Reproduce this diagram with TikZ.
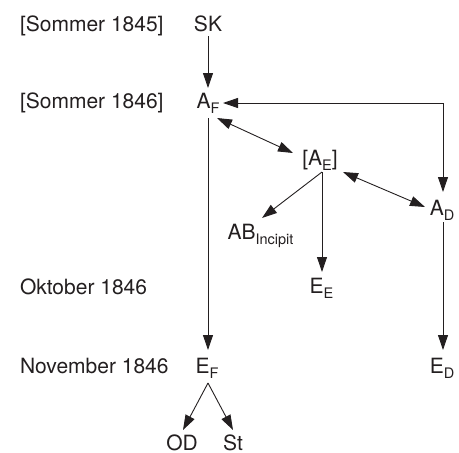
\documentclass[tikz,border=0pt]{standalone}
\usepackage{fontspec}
\setmainfont{TeX Gyre Heros}
\usetikzlibrary{arrows.meta,calc}

\definecolor{ink}{HTML}{231F20}

% lowered, smaller index letters
\newcommand{\lowsub}[1]{\raisebox{-5pt}{\fontsize{14.5}{14.5}\selectfont #1}}

\tikzset{
  witness/.style={inner sep=0pt, outer sep=0pt, anchor=base, text=ink, font=\fontsize{21}{25}\selectfont},
  datelabel/.style={inner sep=0pt, outer sep=0pt, anchor=base west, text=ink, font=\fontsize{21}{25}\selectfont},
  link/.style={draw=ink, line width=0.9pt, -{Triangle[length=15pt,width=10pt]}},
  twoway/.style={draw=ink, line width=0.9pt, {Triangle[length=15pt,width=10pt]}-{Triangle[length=15pt,width=10pt]}}
}

\begin{document}
\begin{tikzpicture}[x=1pt,y=-1pt]
\useasboundingbox (0,0) rectangle (459,453);

% dates
\node[datelabel] (d1) at (20,31) {[Sommer 1845]};
\node[datelabel] (d2) at (20,108) {[Sommer 1846]};
\node[datelabel] (d3) at (20,294) {Oktober 1846};
\node[datelabel] (d4) at (20,373) {November 1846};

% witnesses
\node[witness] (sk) at (208,31) {SK};
\node[witness] (af) at (208,108) {A\lowsub{F}};
\node[witness] (ae) at (320,165) {[A\lowsub{E}]};
\node[witness] (ad) at (442,215) {A\lowsub{D}};
\node[witness] (ab) at (260.5,239) {AB\lowsub{Incipit}};
\node[witness] (ee) at (321.5,293) {E\lowsub{E}};
\node[witness] (ef) at (207,373) {E\lowsub{F}};
\node[witness] (ed) at (442,373) {E\lowsub{D}};
\node[witness] (od) at (182,450) {OD};
\node[witness] (st) at (233,450) {St};

% connections
\draw[link] ($(sk.base)+(0,5)$) -- ($(af.base)+(0,-20)$);
\draw[twoway] ($(af.base)+(15,-5)$) -| ($(ad.base)+(1,-23)$);
\draw[twoway] ($(af.base)+(9,10)$) -- ($(ae.base)+(-27,-12)$);
\draw[twoway] ($(ae.base)+(23,7)$) -- ($(ad.base)+(-17,-8)$);
\draw[link] ($(ae.base)+(2,7)$) -- ($(ab.base)+(1.5,-21)$);
\draw[link] ($(ae.base)+(2,7)$) -- ($(ee.base)+(0.5,-21)$);
\draw[link] ($(af.base)+(0,10)$) -- ($(ef.base)+(1,-23)$);
\draw[link] ($(ad.base)+(1,7)$) -- ($(ed.base)+(1,-23)$);
\draw[link] ($(ef.base)+(1,10)$) -- ($(od.base)+(1,-20)$);
\draw[link] ($(ef.base)+(1,10)$) -- ($(st.base)+(0,-20)$);
\end{tikzpicture}
\end{document}
